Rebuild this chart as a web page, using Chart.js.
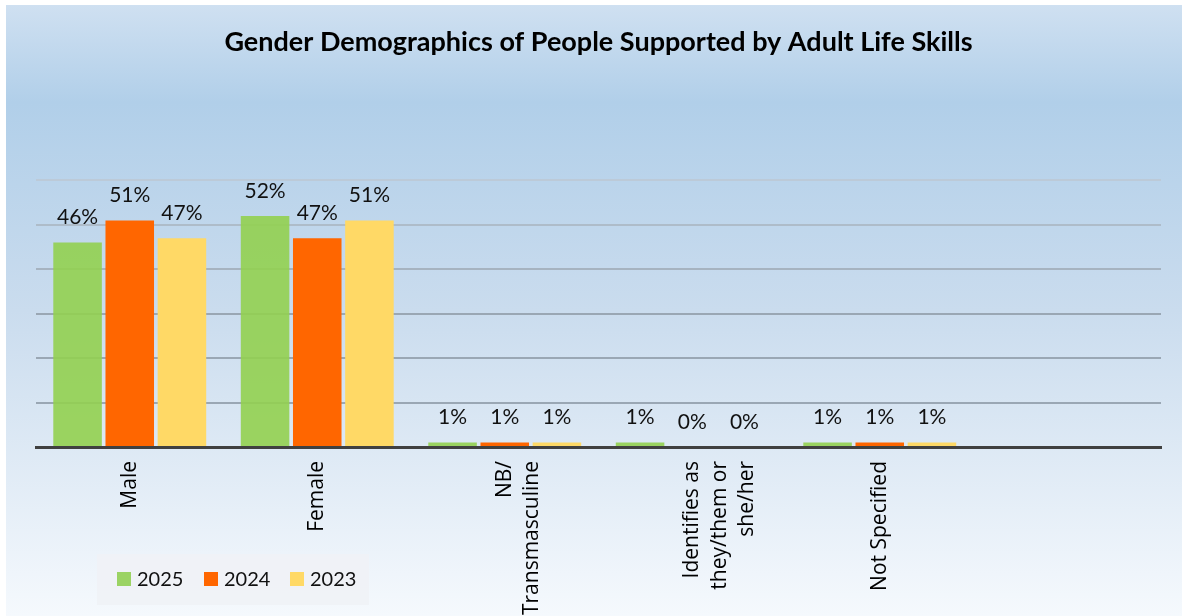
<!DOCTYPE html>
<html>
<head>
<meta charset="utf-8">
<script src="https://cdn.jsdelivr.net/npm/chart.js@4/dist/chart.umd.min.js"></script>
<style>
  html, body { margin: 0; padding: 0; background: #fff; }
  #wrap { width: 1182px; height: 616px; position: relative; }
</style>
</head>
<body>
<div id="wrap"><canvas id="myChart"></canvas></div>
<script>
// data (percent)
const categories = [
  'Male',
  'Female',
  ['NB/', 'Transmasculine'],
  ['Identifies as', 'they/them or', 'she/her'],
  'Not Specified',
  ''
];
const values2025 = [46, 52, 1, 1, 1, null];
const values2024 = [51, 47, 1, 0, 1, null];
const values2023 = [47, 51, 1, 0, 1, null];
const seriesLabels = ['2025', '2024', '2023'];
const yTicks = [0, 10, 20, 30, 40, 50, 60];

const calibri = 'Lato, "Noto Sans", sans-serif';

// gradient panel behind everything
const panelBg = {
  id: 'panelBg',
  beforeDraw(chart) {
    const c = chart.ctx;
    const g = c.createLinearGradient(0, 5, 0, 616);
    g.addColorStop(0, '#cfe0f1');
    g.addColorStop(0.16, '#b1cfe9');
    g.addColorStop(0.5, '#cadcee');
    g.addColorStop(1, '#f5f9fd');
    c.save();
    c.fillStyle = g;
    c.fillRect(6, 5, chart.width - 6, chart.height - 5);
    c.restore();
  }
};

// value labels over the bars
const barLabels = {
  id: 'barLabels',
  afterDatasetsDraw(chart) {
    const c = chart.ctx;
    c.save();
    c.font = '21px ' + calibri;
    c.fillStyle = '#111';
    c.textAlign = 'center';
    c.textBaseline = 'middle';
    chart.data.datasets.forEach((ds, i) => {
      chart.getDatasetMeta(i).data.forEach((bar, j) => {
        const v = ds.data[j];
        if (v === null || v === undefined) return;
        c.fillText(v + '%', bar.x, bar.y - 25);
      });
    });
    c.restore();
  }
};

// boxed legend in the lower left corner
const boxLegend = {
  id: 'boxLegend',
  afterDraw(chart) {
    const c = chart.ctx;
    c.save();
    c.fillStyle = 'rgba(240,242,246,0.9)';
    c.fillRect(97, 554, 272, 51);
    c.font = '20px ' + calibri;
    c.textBaseline = 'middle';
    const xs = [117, 204, 290];
    chart.data.datasets.forEach((ds, i) => {
      c.fillStyle = ds.legendColor;
      c.fillRect(xs[i], 572, 14, 14);
      c.fillStyle = '#111';
      c.fillText(ds.label, xs[i] + 20, 580);
    });
    c.restore();
  }
};

const gridColors = { 60: '#bccad8', 50: '#aebcc9', 40: '#a6b3c0' };

new Chart(document.getElementById('myChart'), {
  type: 'bar',
  data: {
    labels: categories,
    datasets: [
      { label: seriesLabels[0], data: values2025, backgroundColor: 'rgba(146,208,80,0.9)', legendColor: '#9bd364' },
      { label: seriesLabels[1], data: values2024, backgroundColor: '#ff6600', legendColor: '#ff6600' },
      { label: seriesLabels[2], data: values2023, backgroundColor: '#ffd966', legendColor: '#ffd966' }
    ]
  },
  options: {
    responsive: true,
    maintainAspectRatio: false,
    animation: false,
    datasets: {
      bar: { categoryPercentage: 0.835, barPercentage: 0.93 }
    },
    layout: { padding: { left: 36, right: 21, top: 0, bottom: 0 } },
    plugins: {
      legend: { display: false },
      tooltip: { enabled: false },
      title: {
        display: true,
        text: 'Gender Demographics of People Supported by Adult Life Skills',
        color: '#000',
        font: { family: calibri, size: 27, weight: 'bold' },
        padding: { top: 26, bottom: 122 }
      }
    },
    scales: {
      x: {
        grid: { display: false, drawTicks: false },
        border: { display: true, color: '#404040', width: 3 },
        ticks: {
          autoSkip: false,
          maxRotation: 90,
          minRotation: 90,
          padding: 14,
          color: '#000',
          font: { family: '"Open Sans", sans-serif', size: 21, lineHeight: 1.3 }
        },
        afterFit(scale) { scale.height = 169; }
      },
      y: {
        min: 0,
        max: 60,
        afterBuildTicks(scale) { scale.ticks = yTicks.map(v => ({ value: v })); },
        ticks: { display: false },
        border: { display: false },
        grid: {
          drawTicks: false,
          lineWidth: 2,
          color: ctx => gridColors[ctx.tick.value] || '#9aa7b4'
        },
        afterFit(scale) { scale.width = 0; }
      }
    }
  },
  plugins: [panelBg, barLabels, boxLegend]
});
</script>
</body>
</html>
